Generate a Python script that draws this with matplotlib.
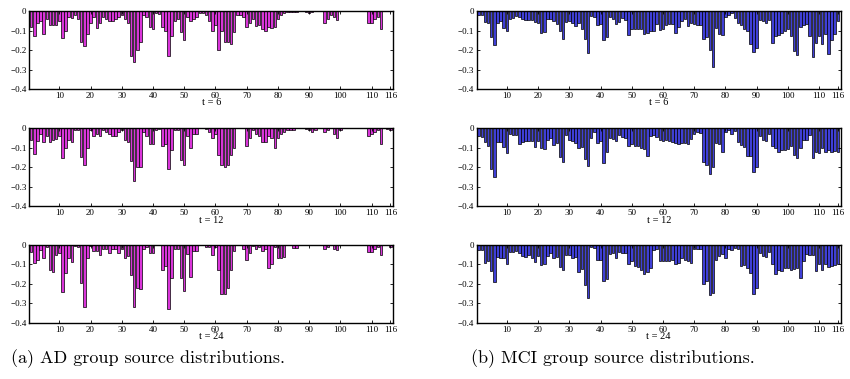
import matplotlib
matplotlib.use("Agg")
from matplotlib import pyplot as plt
import numpy as np

# source distributions, one value per region (116 regions)
ad_t6 = [
    -0.08, -0.13, -0.06, -0.05, -0.12, -0.04, -0.07, -0.07, -0.07, -0.05,
    -0.14, -0.10, -0.03, -0.035, -0.02, -0.04, -0.16, -0.18, -0.12, -0.06,
    -0.03, -0.085, -0.06, -0.03, -0.04, -0.05, -0.05, -0.04, -0.03, -0.02,
    -0.04, -0.06, -0.23, -0.26, -0.20, -0.16, -0.02, -0.03, -0.08, -0.09,
    -0.01, -0.015, -0.08, -0.10, -0.23, -0.13, -0.05, -0.04, -0.11, -0.15,
    -0.03, -0.05, -0.04, -0.03, -0.01, -0.01, -0.02, -0.05, -0.10, -0.07,
    -0.20, -0.10, -0.16, -0.16, -0.17, -0.11, -0.02, -0.02, -0.03, -0.08,
    -0.06, -0.04, -0.075, -0.07, -0.09, -0.10, -0.08, -0.085, -0.08, -0.04,
    -0.02, -0.01, -0.005, -0.005, -0.005, -0.005, 0, 0, -0.003, -0.01,
    -0.005, 0, 0, -0.002, -0.06, -0.04, -0.02, -0.03, -0.045, 0,
    0, 0, 0, 0, 0, 0, 0, 0, -0.06, -0.06,
    -0.04, -0.03, -0.09, 0, 0, 0,
]
ad_t12 = [
    -0.06, -0.135, -0.065, -0.03, -0.07, -0.04, -0.07, -0.06, -0.055, -0.04,
    -0.155, -0.10, -0.06, -0.07, -0.01, -0.01, -0.15, -0.19, -0.10, -0.01,
    -0.04, -0.03, -0.04, -0.01, -0.02, -0.03, -0.04, -0.04, -0.02, -0.01,
    -0.06, -0.07, -0.17, -0.27, -0.20, -0.20, -0.02, -0.04, -0.08, -0.08,
    -0.01, -0.005, -0.09, -0.08, -0.21, -0.11, -0.01, -0.01, -0.165, -0.19,
    -0.04, -0.10, -0.03, -0.03, 0, 0, -0.005, -0.02, -0.05, -0.03,
    -0.14, -0.19, -0.20, -0.19, -0.14, -0.10, 0, 0, 0, -0.09,
    -0.05, -0.01, -0.03, -0.04, -0.07, -0.07, -0.04, -0.05, -0.10, -0.05,
    -0.03, -0.02, -0.01, -0.01, -0.01, 0, 0, 0, -0.005, -0.01,
    -0.02, -0.01, 0, 0, -0.02, -0.01, 0, -0.03, -0.05, -0.01,
    0, 0, 0, 0, 0, 0, 0, 0, -0.04, -0.03,
    -0.02, -0.01, -0.08, 0, -0.005, -0.01,
]
ad_t24 = [
    -0.035, -0.095, -0.08, -0.025, -0.07, -0.01, -0.13, -0.14, -0.05, -0.04,
    -0.24, -0.145, -0.07, -0.09, -0.005, -0.01, -0.195, -0.32, -0.065, -0.005,
    -0.03, -0.03, -0.05, -0.02, -0.02, -0.04, -0.02, -0.02, -0.04, -0.02,
    -0.065, -0.055, -0.155, -0.32, -0.22, -0.225, -0.02, -0.01, -0.04, -0.04,
    0, 0, -0.13, -0.11, -0.33, -0.17, -0.02, -0.02, -0.17, -0.235,
    -0.045, -0.165, -0.03, -0.03, 0, 0, -0.01, -0.01, -0.05, -0.01,
    -0.13, -0.25, -0.25, -0.22, -0.13, -0.03, 0, 0, -0.02, -0.08,
    -0.04, -0.005, -0.02, -0.01, -0.03, -0.02, -0.12, -0.10, -0.01, -0.07,
    -0.07, -0.06, 0, 0, -0.015, -0.015, 0, 0, 0, 0,
    0, 0, 0, 0, -0.02, -0.01, 0, -0.02, -0.025, 0,
    0, 0, 0, 0, 0, 0, 0, 0, -0.035, -0.035,
    -0.02, -0.01, -0.05, 0, 0, -0.01,
]
mci_t6 = [
    -0.02, -0.02, -0.055, -0.06, -0.135, -0.175, -0.06, -0.05, -0.085, -0.10,
    -0.04, -0.035, -0.025, -0.03, -0.04, -0.045, -0.045, -0.045, -0.055, -0.06,
    -0.115, -0.11, -0.04, -0.04, -0.05, -0.065, -0.10, -0.145, -0.055, -0.05,
    -0.06, -0.075, -0.06, -0.09, -0.145, -0.215, -0.025, -0.03, -0.07, -0.065,
    -0.15, -0.135, -0.03, -0.04, -0.065, -0.055, -0.035, -0.045, -0.125, -0.09,
    -0.09, -0.09, -0.09, -0.12, -0.115, -0.10, -0.105, -0.065, -0.095, -0.09,
    -0.07, -0.065, -0.065, -0.115, -0.08, -0.05, -0.04, -0.075, -0.06, -0.065,
    -0.07, -0.07, -0.145, -0.135, -0.20, -0.285, -0.085, -0.12, -0.125, -0.03,
    -0.02, -0.01, -0.035, -0.06, -0.07, -0.09, -0.10, -0.17, -0.21, -0.19,
    -0.045, -0.05, -0.06, -0.045, -0.165, -0.13, -0.125, -0.115, -0.105, -0.09,
    -0.13, -0.205, -0.225, -0.08, -0.07, -0.065, -0.13, -0.235, -0.165, -0.13,
    -0.17, -0.12, -0.22, -0.15, -0.12, -0.05,
]
mci_t12 = [
    -0.04, -0.045, -0.07, -0.09, -0.21, -0.25, -0.07, -0.07, -0.095, -0.125,
    -0.03, -0.035, -0.035, -0.08, -0.07, -0.065, -0.065, -0.065, -0.095, -0.065,
    -0.10, -0.105, -0.06, -0.05, -0.085, -0.075, -0.15, -0.175, -0.035, -0.06,
    -0.065, -0.075, -0.10, -0.095, -0.16, -0.195, -0.05, -0.02, -0.075, -0.065,
    -0.18, -0.12, -0.05, -0.055, -0.065, -0.035, -0.045, -0.05, -0.09, -0.08,
    -0.09, -0.09, -0.10, -0.105, -0.145, -0.04, -0.035, -0.045, -0.06, -0.065,
    -0.06, -0.065, -0.07, -0.075, -0.08, -0.075, -0.075, -0.08, -0.055, -0.03,
    -0.02, -0.025, -0.175, -0.19, -0.235, -0.20, -0.075, -0.08, -0.12, -0.02,
    -0.01, -0.03, -0.015, -0.07, -0.085, -0.095, -0.145, -0.145, -0.225, -0.20,
    -0.04, -0.06, -0.065, -0.03, -0.09, -0.10, -0.12, -0.11, -0.11, -0.105,
    -0.09, -0.14, -0.155, -0.10, -0.06, -0.06, -0.035, -0.155, -0.12, -0.13,
    -0.10, -0.12, -0.11, -0.12, -0.115, -0.12,
]
mci_t24 = [
    -0.025, -0.025, -0.095, -0.085, -0.135, -0.19, -0.06, -0.065, -0.07, -0.10,
    -0.035, -0.035, -0.03, -0.04, -0.055, -0.06, -0.05, -0.07, -0.09, -0.055,
    -0.105, -0.10, -0.055, -0.04, -0.07, -0.06, -0.115, -0.13, -0.05, -0.05,
    -0.065, -0.06, -0.14, -0.125, -0.205, -0.27, -0.01, -0.015, -0.08, -0.08,
    -0.185, -0.175, -0.045, -0.04, -0.065, -0.035, -0.04, -0.04, -0.10, -0.085,
    -0.11, -0.115, -0.13, -0.15, -0.14, -0.12, -0.025, -0.02, -0.085, -0.085,
    -0.085, -0.085, -0.08, -0.10, -0.095, -0.07, -0.08, -0.085, -0.095, -0.02,
    -0.02, -0.02, -0.20, -0.185, -0.255, -0.245, -0.08, -0.055, -0.045, -0.07,
    -0.02, -0.025, -0.015, -0.02, -0.11, -0.105, -0.12, -0.145, -0.25, -0.22,
    -0.04, -0.055, -0.06, -0.035, -0.10, -0.15, -0.13, -0.135, -0.12, -0.12,
    -0.13, -0.125, -0.12, -0.17, -0.085, -0.045, -0.05, -0.05, -0.135, -0.10,
    -0.13, -0.10, -0.115, -0.11, -0.105, -0.10,
]

times = [6, 12, 24]
regions = np.arange(1, 117)
xticks = [10, 20, 30, 40, 50, 60, 70, 80, 90, 100, 110, 116]
yticks = [-0.4, -0.3, -0.2, -0.1, 0]
ylabels = ["\u22120.4", "\u22120.3", "\u22120.2", "\u22120.1", "0"]

AD_COLOR = "#d935d9"
MCI_COLOR = "#3f3fd6"
TICK_FONT = "Liberation Serif"
CAP_FONT = "cmr10"

fig = plt.figure(figsize=(8.5, 3.79), dpi=100)

col_x = [0.0345, 0.561]
row_y = [0.765, 0.456, 0.148]
ax_w, ax_h = 0.428, 0.206

columns = [
    (AD_COLOR, [ad_t6, ad_t12, ad_t24]),
    (MCI_COLOR, [mci_t6, mci_t12, mci_t24]),
]

for c, (color, series) in enumerate(columns):
    for r, (t, values) in enumerate(zip(times, series)):
        ax = fig.add_axes([col_x[c], row_y[r], ax_w, ax_h])
        ax.bar(regions, values, width=0.8, color=color,
               edgecolor="black", linewidth=0.5)
        ax.set_xlim(0.4, 116.9)
        ax.set_ylim(-0.4, 0)
        ax.set_xticks(xticks)
        ax.set_xticklabels([str(v) for v in xticks], fontfamily=TICK_FONT, fontsize=6.5)
        ax.set_yticks(yticks)
        ax.set_yticklabels(ylabels, fontfamily=TICK_FONT, fontsize=6.5)
        ax.tick_params(direction="in", top=True, right=True, length=2.5,
                       width=0.6, pad=2)
        for side in ax.spines.values():
            side.set_linewidth(1.0)
        ax.set_xlabel(f"t = {t}", fontfamily=TICK_FONT, fontsize=7.5, labelpad=-1)

fig.text(0.174, 0.055, "(a) AD group source distributions.",
         fontfamily=CAP_FONT, fontsize=13, ha="center", va="center")
fig.text(0.721, 0.055, "(b) MCI group source distributions.",
         fontfamily=CAP_FONT, fontsize=13, ha="center", va="center")

fig.savefig("out.png", dpi=100)
